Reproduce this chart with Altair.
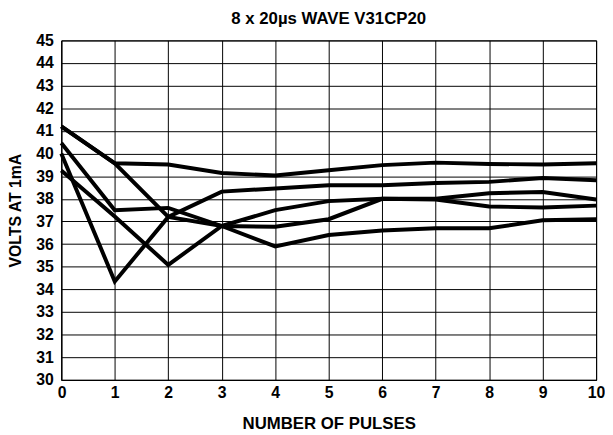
import altair as alt
import pandas as pd

pulses = [0, 1, 2, 3, 4, 5, 6, 7, 8, 9, 10]
series_1 = [41.2, 39.57, 39.52, 39.14, 39.03, 39.26, 39.49, 39.6, 39.54, 39.52, 39.57]
series_2 = [41.2, 39.57, 37.2, 36.8, 37.5, 37.9, 38.0, 37.97, 37.66, 37.62, 37.7]
series_3 = [40.47, 37.5, 37.6, 36.8, 35.9, 36.4, 36.6, 36.7, 36.7, 37.05, 37.1]
series_4 = [40.0, 34.35, 37.2, 38.32, 38.46, 38.6, 38.6, 38.7, 38.75, 38.92, 38.82]
series_5 = [39.25, 37.22, 35.08, 36.8, 36.77, 37.1, 38.0, 38.0, 38.25, 38.3, 37.97]

y_ticks = list(range(30, 46))
x_ticks = pulses

rows = []
for name, vals in [("s1", series_1), ("s2", series_2), ("s3", series_3),
                   ("s4", series_4), ("s5", series_5)]:
    for x, v in zip(pulses, vals):
        rows.append({"series": name, "pulses": x, "volts": v})
df = pd.DataFrame(rows)

FONT = "Liberation Sans"

chart = alt.Chart(df).mark_line(color="black", strokeWidth=4, strokeJoin="miter").encode(
    x=alt.X("pulses:Q",
            scale=alt.Scale(domain=[0, 10], nice=False),
            axis=alt.Axis(values=x_ticks, title="NUMBER OF PULSES", tickSize=0,
                          labelPadding=5, titlePadding=15, labelFlush=False,
                          titleFontSize=17,
                          labelAlign={"expr": "datum.value == 0 ? 'left' : 'center'"},
                          labelOffset={"expr": "datum.value == 0 ? -4 : 0"},
                          format="d")),
    y=alt.Y("volts:Q",
            scale=alt.Scale(domain=[30, 45], nice=False, zero=False),
            axis=alt.Axis(values=y_ticks, title="VOLTS AT 1mA", tickSize=0,
                          labelPadding=8, titlePadding=13, format="d")),
    detail="series:N",
).properties(
    width=542,
    height=344,
    background="white",
    title=alt.TitleParams("8 x 20\u00b5s WAVE V31CP20", fontSize=17, font=FONT,
                          fontWeight="bold", color="black", offset=5),
    autosize=alt.AutoSizeParams(type="none"),
    padding={"left": 54, "top": 30, "right": 9, "bottom": 53},
).configure_view(
    stroke="black", strokeWidth=1
).configure_axis(
    grid=True, gridColor="black", gridWidth=1, gridOpacity=1,
    domainColor="black", domainWidth=1,
    labelFont=FONT, labelFontSize=16, labelFontWeight="bold", labelColor="black",
    titleFont=FONT, titleFontSize=16, titleFontWeight="bold", titleColor="black",
)

chart.save("out.html", embed_options={"renderer": "svg", "actions": False})
